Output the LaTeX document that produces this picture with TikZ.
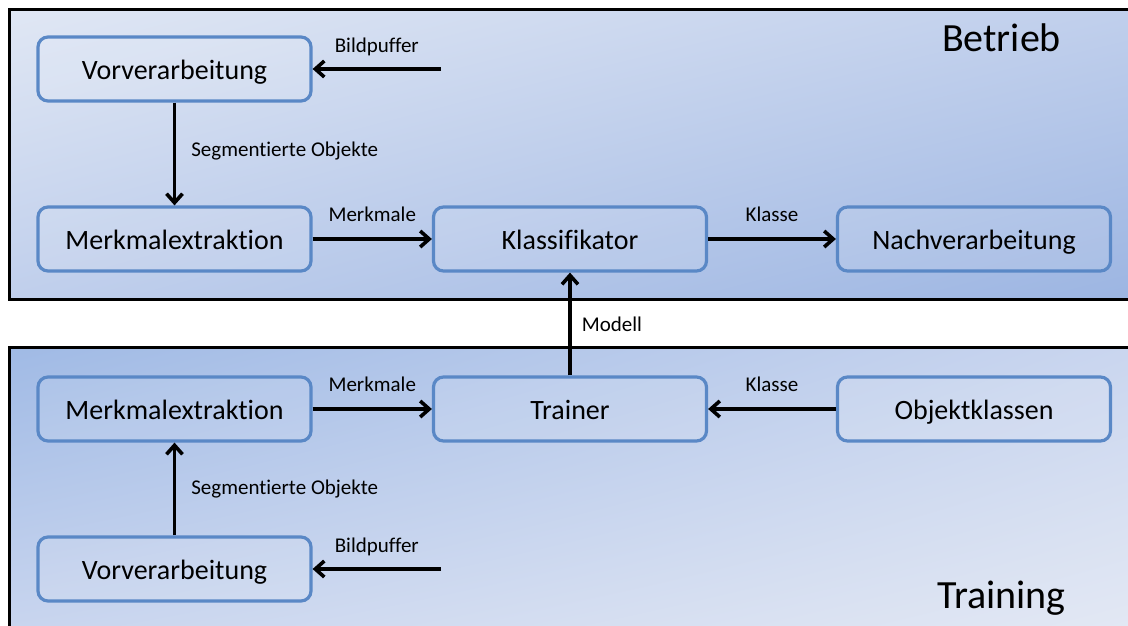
\documentclass[tikz,border=0pt]{standalone}
\usepackage{fontspec}
\setmainfont{Carlito}[Ligatures=NoCommon]
\usetikzlibrary{arrows.meta,shadings}
\definecolor{boxline}{HTML}{5A88C6}
\definecolor{opLight}{HTML}{E0E7F4}
\definecolor{opMid}{HTML}{C0CFEC}
\definecolor{opDark}{HTML}{9CB5E2}
\definecolor{trDark}{HTML}{A0BAE5}
\definecolor{trMid}{HTML}{CAD6EF}
\definecolor{trLight}{HTML}{E4E9F4}
\begin{document}
\begin{tikzpicture}[x=1pt,y=-1pt,
  stage/.style={draw=boxline, line width=3.2pt, rounded corners=10pt,
    minimum width=273pt, minimum height=64pt, inner sep=0pt,
    fill=white, fill opacity=0.1, text opacity=1,
    text height=22.4pt, text depth=1.4pt,
    font=\fontsize{28}{32}\selectfont},
  flow/.style={line width=3.6pt, -{Straight Barb[length=9pt,width=16pt]}},
  lbl/.style={font=\fontsize{21}{24}\selectfont, inner sep=0pt},
  title/.style={font=\fontsize{40}{46}\selectfont, inner sep=0pt, anchor=base},
  frame/.style={draw=black, line width=3pt}]
\useasboundingbox (0,0) rectangle (1128,625);
\begin{scope}
\clip (0,0) rectangle (1128,625);
% operating stage panel
\shade[upper left=opLight, upper right=opMid, lower left=opMid, lower right=opDark]
  (9,9) rectangle (1140,299);
\draw[frame] (9,9) rectangle (1140,299);
% training stage panel
\shade[upper left=trDark, upper right=trMid, lower left=trMid, lower right=trLight]
  (9,347) rectangle (1140,640);
\draw[frame] (9,347) rectangle (1140,640);
\end{scope}

\node[title] (betrieb) at (1001.5,51.7) {Betrieb};
\node[title] (training) at (1001.5,608.3) {Training};

% processing blocks
\node[stage] (vorB) at (174.5,69) {Vorverarbeitung};
\node[stage] (merkB) at (174.5,239) {Merkmalextraktion};
\node[stage] (klass) at (570,239) {Klassifikator};
\node[stage] (nach) at (974,239) {Nachverarbeitung};
\node[stage] (merkT) at (174.5,409) {Merkmalextraktion};
\node[stage] (trainer) at (570,409) {Trainer};
\node[stage] (objk) at (974,409) {Objektklassen};
\node[stage] (vorT) at (174.5,569) {Vorverarbeitung};

\coordinate (bufB) at (441,69);
\coordinate (bufT) at (441,569);

% operating flow
\draw[flow] (bufB) -- node[lbl, anchor=base, yshift=17pt] {Bildpuffer} (vorB);
\draw[flow] (vorB) -- node[lbl, anchor=west, xshift=15pt, yshift=3pt] {Segmentierte Objekte} (merkB);
\draw[flow] (merkB) -- node[lbl, anchor=base, yshift=18pt] {Merkmale} (klass);
\draw[flow] (klass) -- node[lbl, anchor=base, yshift=18pt] {Klasse} (nach);

% model handover
\draw[flow] (trainer) -- node[lbl, anchor=west, xshift=10pt] {Modell} (klass);

% training flow
\draw[flow] (bufT) -- node[lbl, anchor=base, yshift=17pt] {Bildpuffer} (vorT);
\draw[flow] (vorT) -- node[lbl, anchor=west, xshift=15pt] {Segmentierte Objekte} (merkT);
\draw[flow] (merkT) -- node[lbl, anchor=base, yshift=18pt] {Merkmale} (trainer);
\draw[flow] (objk) -- node[lbl, anchor=base, yshift=18pt] {Klasse} (trainer);
\end{tikzpicture}
\end{document}
